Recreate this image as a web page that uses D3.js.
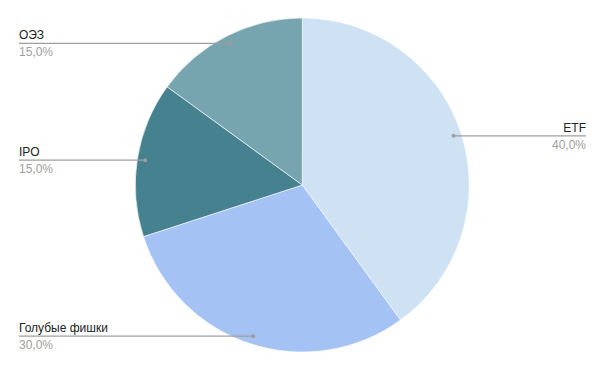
<!DOCTYPE html>
<html><head><meta charset="utf-8">
<script src="https://cdn.jsdelivr.net/npm/d3@7"></script>
<style>body{margin:0;background:#fff}svg{display:block}</style>
</head><body>
<svg id="c" width="605" height="372"></svg>
<script>
const categories = ["ETF", "Голубые фишки", "IPO", "ОЭЗ"];
const values = [40, 30, 15, 15];
const pctLabels = ["40,0%", "30,0%", "15,0%", "15,0%"];
const colors = ["#cfe2f3", "#a4c2f4", "#45818e", "#76a5af"];

const svg = d3.select("#c");
const cx = 302.3, cy = 185, r = 167;
const g = svg.append("g").attr("transform", `translate(${cx},${cy})`);
const pie = d3.pie().sort(null).value(d => d)(values);
const arc = d3.arc().innerRadius(0).outerRadius(r);
g.selectAll("path").data(pie).join("path")
  .attr("d", arc).attr("fill", (d, i) => colors[i])
  .attr("stroke", "#fff").attr("stroke-width", 0.6);

const dotArc = d3.arc().innerRadius(159).outerRadius(159);
const font = "Liberation Sans, Arial, sans-serif";
pie.forEach((d, i) => {
  const [px, py] = dotArc.centroid(d);
  const x = cx + px, y = cy + py;
  const right = px > 0;
  const endX = right ? 586 : 19;
  svg.append("line").attr("x1", x).attr("y1", y).attr("x2", endX).attr("y2", y)
    .attr("stroke", "#9e9e9e").attr("stroke-width", 1.3);
  svg.append("circle").attr("cx", x).attr("cy", y).attr("r", 2).attr("fill", "#9e9e9e");
  svg.append("text").attr("x", endX).attr("y", y - 4)
    .attr("text-anchor", right ? "end" : "start")
    .attr("font-family", font).attr("font-size", 12).attr("fill", "#222")
    .text(categories[i]);
  svg.append("text").attr("x", endX).attr("y", y + 13)
    .attr("text-anchor", right ? "end" : "start")
    .attr("font-family", font).attr("font-size", 12).attr("fill", "#9e9e9e")
    .text(pctLabels[i]);
});
</script>
</body></html>
